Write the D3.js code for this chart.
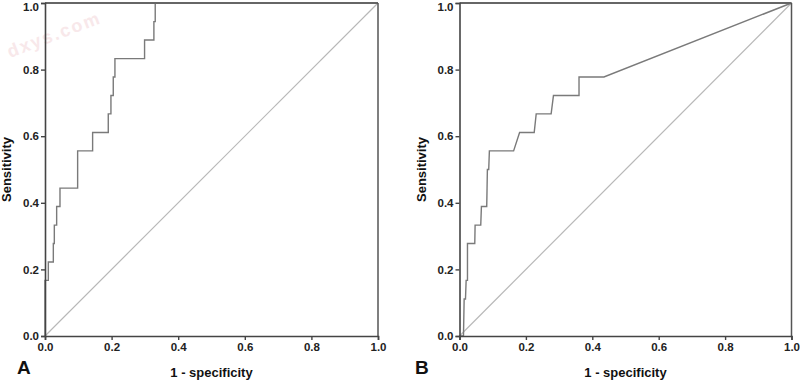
<!DOCTYPE html>
<html><head><meta charset="utf-8">
<script src="https://cdn.jsdelivr.net/npm/d3@7"></script>
<style>
body{margin:0;background:#fff;}
svg{display:block;font-family:Arial,"Liberation Sans",sans-serif;}
</style></head>
<body><svg id="c" width="800" height="381"></svg>
<script>
// ROC curve A (1 - specificity, sensitivity)
const rocA_fpr = [0,0,0.01,0.01,0.025,0.025,0.028,0.028,0.035,0.035,0.045,0.045,0.098,0.098,0.143,0.143,0.19,0.19,0.198,0.198,0.205,0.205,0.21,0.21,0.299,0.299,0.327,0.327,0.331,0.331,1];
const rocA_tpr = [0,0.167,0.167,0.222,0.222,0.278,0.278,0.333,0.333,0.389,0.389,0.444,0.444,0.556,0.556,0.611,0.611,0.667,0.667,0.722,0.722,0.778,0.778,0.833,0.833,0.889,0.889,0.944,0.944,1,1];
// ROC curve B
const rocB_fpr = [0,0.012,0.014,0.018,0.02,0.024,0.024,0.046,0.047,0.064,0.066,0.082,0.083,0.084,0.088,0.09,0.163,0.181,0.225,0.231,0.276,0.283,0.36,0.36,0.435,1];
const rocB_tpr = [0,0,0.111,0.111,0.167,0.167,0.278,0.278,0.333,0.333,0.389,0.389,0.444,0.5,0.5,0.556,0.556,0.611,0.611,0.667,0.667,0.722,0.722,0.778,0.778,1];
const ticks = [0,0.2,0.4,0.6,0.8,1.0];
const panelLabels = ["A","B"];
const xTitle = "1 - specificity";
const yTitle = "Sensitivity";

const svg = d3.select("#c");

// faint watermark
svg.append("text").attr("x",10).attr("y",58).attr("transform","rotate(-21,10,58)")
  .attr("font-size",18).attr("font-weight","bold").attr("fill","#f8e8ea").attr("letter-spacing",2)
  .text("dxys.com");

const panels = [
  {x0:45, x1:378, fpr:rocA_fpr, tpr:rocA_tpr, label:panelLabels[0], lx:17},
  {x0:459.5, x1:791.5, fpr:rocB_fpr, tpr:rocB_tpr, label:panelLabels[1], lx:415}
];
const yTop = 3, yBot = 336;

panels.forEach(p => {
  const x = d3.scaleLinear().domain([0,1]).range([p.x0,p.x1]);
  const y = d3.scaleLinear().domain([0,1]).range([yBot,yTop]);
  const g = svg.append("g");

  // diagonal reference
  g.append("line").attr("x1",x(0)).attr("y1",y(0)).attr("x2",x(1)).attr("y2",y(1))
    .attr("stroke","#b8b8b8").attr("stroke-width",1.2);

  // roc curve
  const pts = p.fpr.map((f,i)=>[f,p.tpr[i]]);
  g.append("path").datum(pts)
    .attr("d", d3.line().x(d=>x(d[0])).y(d=>y(d[1])))
    .attr("fill","none").attr("stroke","#7a7a7a").attr("stroke-width",1.4);

  // frame (top/right)
  g.append("line").attr("x1",x(0)).attr("x2",x(1)).attr("y1",y(1)).attr("y2",y(1))
    .attr("stroke","#666").attr("stroke-width",2);
  g.append("line").attr("x1",x(1)).attr("x2",x(1)).attr("y1",y(1)).attr("y2",y(0))
    .attr("stroke","#555").attr("stroke-width",1.5);

  // axes
  const xa = g.append("g").attr("transform",`translate(0,${yBot})`)
    .call(d3.axisBottom(x).tickValues(ticks).tickFormat(d3.format(".1f")).tickSize(4).tickPadding(3));
  const ya = g.append("g").attr("transform",`translate(${p.x0},0)`)
    .call(d3.axisLeft(y).tickValues(ticks).tickFormat(d3.format(".1f")).tickSize(4).tickPadding(2));
  [xa,ya].forEach(a=>{
    a.select(".domain").attr("stroke","#444").attr("stroke-width",1.6);
    a.selectAll(".tick line").attr("stroke","#444").attr("stroke-width",1.4);
    a.selectAll(".tick text").attr("fill","#222").attr("font-size",11.5).attr("font-weight","bold")
      .attr("font-family","Arial,'Liberation Sans',sans-serif");
  });
  // keep top label inside the picture
  ya.selectAll(".tick text").filter(d=>d===1).attr("dy","0.62em");

  // titles
  g.append("text").attr("x",(p.x0+p.x1)/2).attr("y",377).attr("text-anchor","middle")
    .attr("font-size",13).attr("font-weight","bold").attr("fill","#111").text(xTitle);
  g.append("text").attr("transform",`translate(${p.x0-34},${(yTop+yBot)/2}) rotate(-90)`)
    .attr("text-anchor","middle").attr("font-size",13).attr("font-weight","bold").attr("fill","#111").text(yTitle);
  g.append("text").attr("x",p.lx).attr("y",374).attr("font-size",19).attr("font-weight","bold")
    .attr("fill","#111").text(p.label);
});
</script></body></html>
